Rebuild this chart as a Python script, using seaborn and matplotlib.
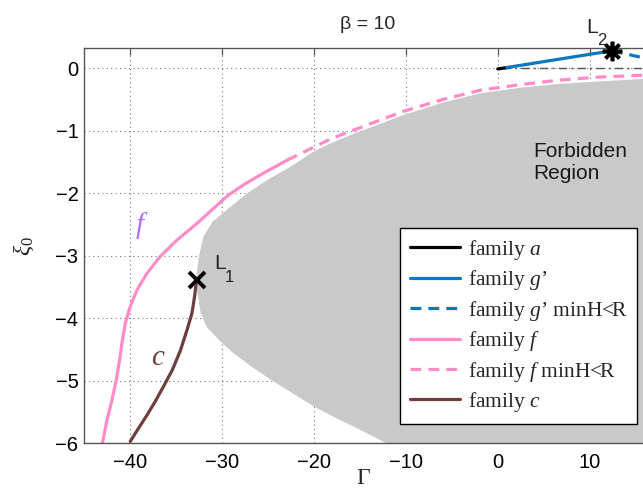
import numpy as np
import pandas as pd
import matplotlib
matplotlib.use("Agg")
import matplotlib.pyplot as plt
from matplotlib.lines import Line2D
import seaborn as sns

# ---- data ----------------------------------------------------------------
# boundary of the forbidden region, traced from the upper right to the bottom
forbidden_gamma = [15.8, 11.0, 6.6, 2.5, -1.9, -6.0, -10.3, -13.0, -15.7, -18.0,
                   -20.0, -22.6, -25.0, -27.25, -29.5, -31.0, -32.0, -32.5, -32.75,
                   -32.7, -32.3, -31.6, -30.3, -28.8, -27.0, -24.7, -22.3, -20.0,
                   -17.8, -15.7, -13.8, -12.1]
forbidden_xi = [-0.17, -0.21, -0.25, -0.31, -0.40, -0.55, -0.75, -0.90, -1.05, -1.19,
                -1.33, -1.58, -1.78, -2.0, -2.27, -2.45, -2.69, -3.01, -3.3,
                -3.55, -3.92, -4.15, -4.35, -4.55, -4.75, -4.98, -5.2, -5.41,
                -5.58, -5.73, -5.87, -6.0]

# family f (solid part)
f_gamma = [-43.0, -42.5, -41.96, -41.49, -41.13, -40.87, -40.51, -39.97, -39.24,
           -38.15, -36.7, -34.9, -32.7, -30.9, -29.3, -27.6, -26.0, -24.4, -22.9]
f_xi = [-6.0, -5.63, -5.31, -4.99, -4.67, -4.40, -4.08, -3.81, -3.55,
        -3.28, -3.01, -2.75, -2.48, -2.24, -2.03, -1.86, -1.72, -1.59, -1.47]

# family f, minH<R (dashed part)
f_dash_gamma = [-22.9, -20.0, -18.0, -15.7, -13.0, -10.3, -6.0, -1.9, 2.5, 6.6, 11.0, 15.8]
f_dash_xi = [-1.47, -1.26, -1.12, -0.99, -0.84, -0.69, -0.50, -0.35, -0.26, -0.19, -0.14, -0.11]

# family c
c_gamma = [-39.97, -39.07, -38.15, -37.25, -36.35, -35.4, -34.5, -33.8, -33.26,
           -32.97, -32.8, -32.7]
c_xi = [-5.97, -5.76, -5.55, -5.33, -5.09, -4.83, -4.51, -4.19, -3.92,
        -3.65, -3.44, -3.38]

# family a
a_gamma = [0.0, 1.2]
a_xi = [-0.01, 0.015]

# family g'
g_gamma = [1.0, 6.4, 12.4]
g_xi = [0.013, 0.14, 0.28]

# family g', minH<R
g_dash_gamma = [12.4, 15.8]
g_dash_xi = [0.28, 0.17]

# reference line xi0 = 0
zero_gamma = [0.5, 15.8]
zero_xi = [0.0, 0.0]

# libration points
L1 = (-32.7, -3.38)
L2 = (12.4, 0.28)

x_ticks = [-40, -30, -20, -10, 0, 10]
y_ticks = [0, -1, -2, -3, -4, -5, -6]

# ---- style ---------------------------------------------------------------
sns.set_theme(style="white")
plt.rcParams["font.family"] = ["Liberation Sans", "DejaVu Sans"]
plt.rcParams["mathtext.fontset"] = "custom"
plt.rcParams["mathtext.rm"] = "Liberation Serif"
plt.rcParams["mathtext.it"] = "Liberation Serif:italic"

BLACK = "#000000"
BLUE = "#0B77C2"
PINK = "#FF8CC6"
BROWN = "#6E3D3D"
GREY = "#C9C9C9"
SPINE = "#555555"
XMAX = 15.8

fig = plt.figure(figsize=(6.43, 4.91), dpi=100)
ax = fig.add_axes([0.1306, 0.0971, 0.8694, 0.8045])

# forbidden region: closed by the right and bottom edges of the plot
poly_x = forbidden_gamma + [XMAX]
poly_y = forbidden_xi + [-6.0]
ax.fill(poly_x, poly_y, color=GREY, linewidth=0, zorder=1)

lw = 2.3
dash = (0, (3.4, 2.2))
line_kw = dict(sort=False, estimator=None, ax=ax, legend=False)

sns.lineplot(x=zero_gamma, y=zero_xi, color="#555555", linewidth=1.0,
             linestyle=(0, (6, 3, 1.5, 3)), **line_kw)
sns.lineplot(x=f_gamma, y=f_xi, color=PINK, linewidth=lw, **line_kw)
sns.lineplot(x=f_dash_gamma, y=f_dash_xi, color=PINK, linewidth=lw,
             linestyle=dash, **line_kw)
sns.lineplot(x=c_gamma, y=c_xi, color=BROWN, linewidth=lw, **line_kw)
sns.lineplot(x=a_gamma, y=a_xi, color=BLACK, linewidth=lw, **line_kw)
sns.lineplot(x=g_gamma, y=g_xi, color=BLUE, linewidth=lw, **line_kw)
sns.lineplot(x=g_dash_gamma, y=g_dash_xi, color=BLUE, linewidth=lw,
             linestyle=dash, **line_kw)
for ln in ax.lines:
    ln.set_solid_capstyle("round")

# libration points
ax.plot([L1[0]], [L1[1]], marker="x", color="black", markersize=11,
        markeredgewidth=2.8, zorder=5)
ax.plot([L2[0]], [L2[1]], marker=(8, 2, 0), color="black", markersize=14,
        markeredgewidth=2.6, zorder=5, clip_on=False)
ax.text(-30.8, -3.12, "L", fontsize=15, ha="left", va="center")
ax.text(-29.65, -3.34, "1", fontsize=12, ha="left", va="center")
ax.text(9.6, 0.65, "L", fontsize=15, ha="left", va="center", clip_on=False)
ax.text(10.8, 0.45, "2", fontsize=12, ha="left", va="center", clip_on=False)

# curve annotations
ax.text(-38.7, -2.52, r"$f$", fontsize=21, color="#B070FF", ha="center", va="center")
ax.text(-36.9, -4.62, r"$c$", fontsize=21, color=BROWN, ha="center", va="center")

ax.text(3.9, -1.5, "Forbidden\nRegion", fontsize=15, ha="left", va="center",
        linespacing=1.2, color="#1a1a1a")

# axes
ax.set_xlim(-45, XMAX)
ax.set_ylim(-6, 0.32)
ax.set_xticks(x_ticks)
ax.set_yticks(y_ticks)
ax.set_xticklabels([f"\u2212{abs(v)}" if v < 0 else str(v) for v in x_ticks])
ax.set_yticklabels([f"\u2212{abs(v)}" if v < 0 else str(v) for v in y_ticks])
ax.tick_params(axis="both", direction="in", length=5, width=0.9, color=SPINE,
               labelsize=14.5, labelcolor="black", top=True, right=False)
ax.tick_params(axis="x", pad=7)
ax.tick_params(axis="y", pad=4)
ax.grid(True, linestyle=(0, (1, 3)), color="#777777", linewidth=0.8)
for side in ["left", "bottom", "top"]:
    ax.spines[side].set_visible(True)
    ax.spines[side].set_color(SPINE)
    ax.spines[side].set_linewidth(1.0)
ax.spines["right"].set_visible(False)

ax.set_xlabel("\u0393", fontsize=17, family="Liberation Serif", labelpad=-3)
ax.set_ylabel(r"$\xi_0$", fontsize=17, labelpad=14)
fig.text(0.571, 0.950, "\u03b2 = 10", fontsize=14, ha="center", va="center")

handles = [
    Line2D([], [], color=BLACK, lw=lw),
    Line2D([], [], color=BLUE, lw=lw),
    Line2D([], [], color=BLUE, lw=lw, linestyle=dash),
    Line2D([], [], color=PINK, lw=lw),
    Line2D([], [], color=PINK, lw=lw, linestyle=dash),
    Line2D([], [], color=BROWN, lw=lw),
]
labels = [
    r"family $a$",
    "family $g$\u2019",
    "family $g$\u2019 minH<R",
    r"family $f$",
    r"family $f$ minH<R",
    r"family $c$",
]
leg = ax.legend(handles, labels, loc="upper left", bbox_to_anchor=(0.565, 0.545),
                borderaxespad=0, frameon=True, fancybox=False, framealpha=1,
                edgecolor="black", handlelength=2.35,
                handletextpad=0.35, labelspacing=0.3, borderpad=0.45,
                prop={"family": "Liberation Serif", "size": 15.5})
leg.get_frame().set_linewidth(1.0)

fig.savefig("out.png", dpi=100)
